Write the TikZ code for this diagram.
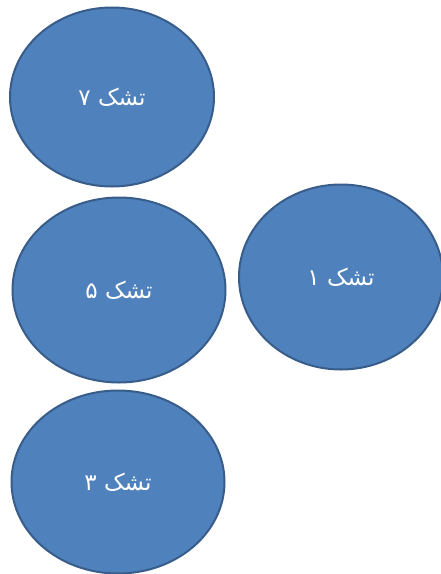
\documentclass[tikz,border=0pt]{standalone}
\usepackage{fontspec}
\usetikzlibrary{shapes.geometric}
\TeXXeTstate=1
\newfontfamily\arabicfont[Script=Arabic]{DejaVu Sans}
\definecolor{mat}{HTML}{4F81BD}
\definecolor{matedge}{HTML}{385D8A}

\begin{document}
\begin{tikzpicture}[x=1pt,y=-1pt,
    mattress/.style={ellipse,draw=matedge,fill=mat,line width=2pt,
                     inner sep=0pt,text=white,
                     font=\arabicfont\fontsize{23}{27}\selectfont}]
    \useasboundingbox (0,0) rectangle (441,574);
    \node[mattress,minimum width=204pt,minimum height=179pt]
      (tashak7) at (112,97) {\beginR تشک ۷\endR};
    \node[mattress,minimum width=213pt,minimum height=185pt]
      (tashak5) at (119,290) {\beginR تشک ۵\endR};
    \node[mattress,minimum width=204pt,minimum height=185pt]
      (tashak1) at (341,277) {\beginR تشک ۱\endR};
    \node[mattress,minimum width=213pt,minimum height=183pt]
      (tashak3) at (118,482) {\beginR تشک ۳\endR};
  \end{tikzpicture}
\end{document}
